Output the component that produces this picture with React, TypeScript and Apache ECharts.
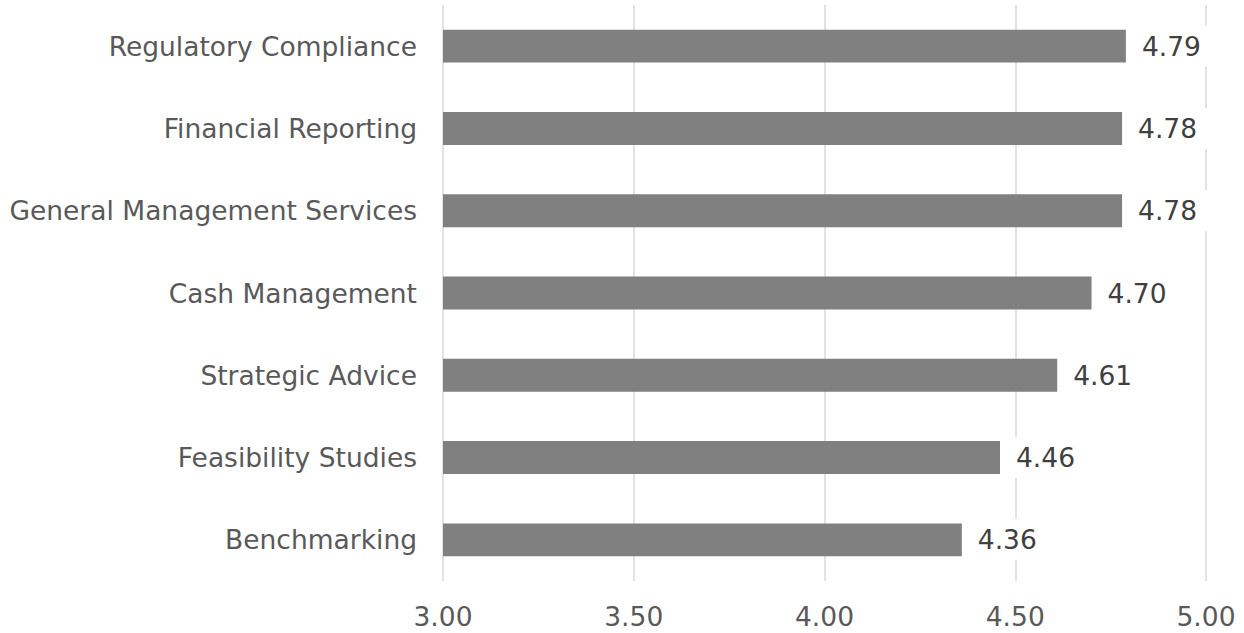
import React, { useEffect, useRef } from "react";
import * as echarts from "echarts";

const categories = [
  "Regulatory Compliance",
  "Financial Reporting",
  "General Management Services",
  "Cash Management",
  "Strategic Advice",
  "Feasibility Studies",
  "Benchmarking",
];
const values = [4.79, 4.78, 4.78, 4.7, 4.61, 4.46, 4.36];
const axisMin = 3;
const axisMax = 5;
const axisInterval = 0.5;

const FONT = "DejaVu Sans";
const FS = 26.5;

export default function App() {
  const ref = useRef<HTMLDivElement>(null);
  useEffect(() => {
    if (!ref.current) return;
    const chart = echarts.init(ref.current, null, { renderer: "svg" });
    chart.setOption({
      animation: false,
      backgroundColor: "#ffffff",
      grid: { left: 443, right: 38, top: 5, bottom: 52, containLabel: false },
      xAxis: {
        type: "value",
        min: axisMin,
        max: axisMax,
        interval: axisInterval,
        axisLine: { show: false },
        axisTick: { show: false },
        splitLine: { show: true, lineStyle: { color: "#d9d9d9", width: 1.5 } },
        axisLabel: {
          color: "#595959",
          fontFamily: FONT,
          fontSize: FS,
          margin: 22,
          formatter: (v: number) => v.toFixed(2),
        },
      },
      yAxis: {
        type: "category",
        data: categories,
        inverse: true,
        axisLine: { show: false },
        axisTick: { show: false },
        splitLine: { show: false },
        axisLabel: {
          color: "#595959",
          fontFamily: FONT,
          fontSize: FS,
          margin: 26,
        },
      },
      series: [
        {
          type: "bar",
          data: values,
          barWidth: "40%",
          itemStyle: { color: "#808080" },
          label: {
            show: true,
            position: "right",
            distance: 8,
            formatter: (p: any) => Number(p.value).toFixed(2),
            color: "#404040",
            fontFamily: FONT,
            fontSize: FS,
            backgroundColor: "#ffffff",
            padding: [7, 11, 7, 8],
          },
        },
      ],
    });
    return () => chart.dispose();
  }, []);
  return (
    <div
      ref={ref}
      style={{ position: "fixed", left: 0, top: 0, width: 1244, height: 633 }}
    />
  );
}
